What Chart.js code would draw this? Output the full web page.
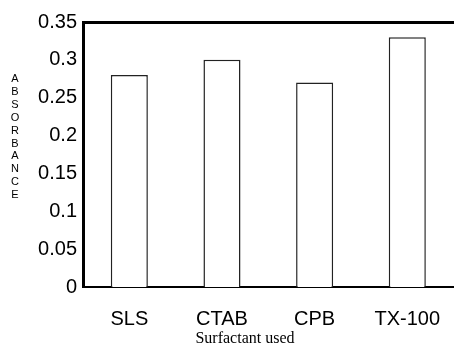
<!DOCTYPE html>
<html>
<head>
<meta charset="utf-8">
<script src="https://cdn.jsdelivr.net/npm/chart.js@4"></script>
<style>
  html, body { margin: 0; padding: 0; background: #fff; overflow: hidden; }
  #wrap { width: 458px; height: 349px; overflow: hidden; }
</style>
</head>
<body>
<div id="wrap"><canvas id="myChart" width="461" height="349"></canvas></div>
<script>
var categories = ["SLS", "CTAB", "CPB", "TX-100"];
var absorbance = [0.28, 0.30, 0.27, 0.33];
var yMin = 0, yMax = 0.35, yStep = 0.05;
var yTitle = "ABSORBANCE";
var xTitle = "Surfactant used";

var sansFont = "'Liberation Sans', Arial, sans-serif";

// stacked vertical letters on the left and the serif axis title below
var extraText = {
	id: "extraText",
	afterDraw: function(chart) {
		var ctx = chart.ctx;
		ctx.save();
		ctx.fillStyle = "#000";
		ctx.textAlign = "center";
		ctx.textBaseline = "middle";
		ctx.font = "11px " + sansFont;
		for (var i = 0; i < yTitle.length; i++) {
			ctx.fillText(yTitle[i], 15, 79 + i * 12.9);
		}
		ctx.font = "16px 'Liberation Serif', 'Times New Roman', serif";
		ctx.fillText(xTitle, 245, 339);
		ctx.restore();
	}
};

var ctx = document.getElementById("myChart");

var myChart = new Chart(ctx, {
	type: "bar",
	data: {
		labels: categories,
		datasets: [{
			data: absorbance,
			backgroundColor: "#fff",
			borderColor: "#222",
			borderWidth: 1.5,
			categoryPercentage: 1,
			barPercentage: 0.4
		}]
	},
	options: {
		responsive: false,
		animation: false,
		layout: { padding: 0 },
		plugins: {
			legend: { display: false },
			tooltip: { enabled: false }
		},
		scales: {
			x: {
				position: "bottom",
				grid: { display: false, drawTicks: false },
				border: { display: true, color: "#000", width: 2 },
				ticks: {
					color: "#000",
					padding: 20,
					font: { family: sansFont, size: 20 }
				},
				afterFit: function(scale) { scale.height = 62; }
			},
			x2: {
				position: "top",
				labels: categories,
				grid: { display: false, drawTicks: false },
				border: { display: true, color: "#000", width: 3 },
				ticks: { display: false },
				afterFit: function(scale) { scale.height = 22; }
			},
			y: {
				min: yMin,
				max: yMax,
				grid: { display: false, drawTicks: false },
				border: { display: true, color: "#000", width: 3 },
				ticks: {
					stepSize: yStep,
					color: "#000",
					padding: 6,
					font: { family: sansFont, size: 20 },
					callback: function(value) {
						return String(Number(value.toFixed(2)));
					}
				},
				afterFit: function(scale) { scale.width = 83; }
			}
		}
	},
	plugins: [extraText]
});
</script>
</body>
</html>
